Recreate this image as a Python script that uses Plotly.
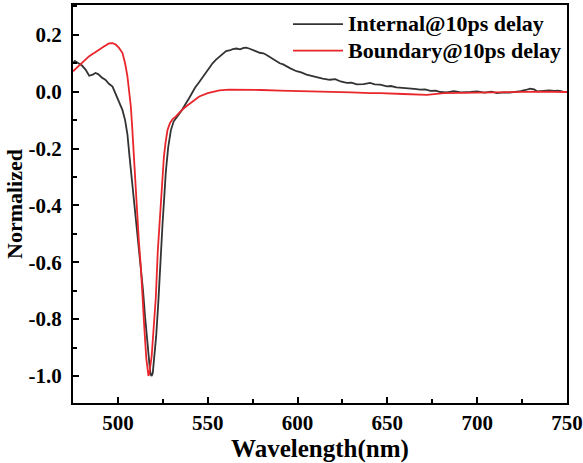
import plotly.graph_objects as go

# Internal@10ps delay (black)
int_wl = [475, 476, 478, 480, 482, 484, 486, 487.5, 489, 491, 493, 495, 497, 498.8, 500.5, 502.5,
          504, 505.3, 506.5, 508, 509.5, 510.8, 512.7, 514, 515.1, 516, 517, 517.8, 518.3, 518.8,
          519.4, 520.2, 521.3, 522.5, 523.9, 524.8, 525.8, 526.7, 528, 529.5, 531, 532.5, 534.1,
          535.5, 537, 538, 539.7, 541, 543, 545.3, 547, 549, 550.8, 552.7, 554.5, 556.5, 558, 560.2,
          562, 564, 566, 568, 570, 571.4, 573, 575, 577, 578.9, 581, 583, 585, 587, 590.1, 592,
          594, 596, 599.4, 602, 605, 608.7, 611, 614, 618, 621, 624, 627.4, 630, 633, 636.7, 640.4,
          643, 646, 649.7, 652, 655, 659, 662, 665, 668.3, 671, 674, 677, 679.5, 683, 687, 691,
          696.3, 700, 704, 708, 711, 714.9, 718, 721, 724.2, 727, 729.5, 731.7, 733.5, 735.4,
          738, 740, 742.9, 745, 747.5, 750]
int_val = [0.100, 0.108, 0.100, 0.092, 0.078, 0.056, 0.060, 0.066, 0.062, 0.050, 0.042, 0.028,
           0.018, -0.008, -0.030, -0.064, -0.100, -0.150, -0.230, -0.320, -0.420, -0.500, -0.600,
           -0.700, -0.790, -0.860, -0.935, -0.975, -0.995, -1.000, -0.990, -0.940, -0.860, -0.740,
           -0.560, -0.470, -0.370, -0.280, -0.195, -0.135, -0.105, -0.090, -0.078, -0.066, -0.052,
           -0.040, -0.022, -0.005, 0.015, 0.034, 0.050, 0.068, 0.082, 0.100, 0.112, 0.122, 0.132,
           0.143, 0.145, 0.150, 0.152, 0.149, 0.154, 0.155, 0.152, 0.148, 0.142, 0.137, 0.135,
           0.128, 0.120, 0.112, 0.100, 0.096, 0.088, 0.082, 0.072, 0.068, 0.060, 0.054, 0.050,
           0.046, 0.042, 0.044, 0.036, 0.031, 0.032, 0.026, 0.027, 0.031, 0.026, 0.025, 0.019,
           0.020, 0.015, 0.013, 0.014, 0.010, 0.007, 0.008, 0.003, 0.004, -0.001, -0.002, 0.002,
           -0.002, -0.001, 0.001, -0.003, 0.000, -0.005, -0.002, -0.003, -0.001, 0.002, 0.006,
           0.011, 0.008, 0.001, 0.002, 0.004, 0.005, 0.003, 0.004, 0.001]

# Boundary@10ps delay (red)
bnd_wl = [475, 478, 481, 484, 487, 489.6, 492, 495, 497, 498.8, 500.5, 502.5, 504, 505.3, 506.3,
          507.2, 508, 509, 510, 510.8, 511.7, 512.7, 513.6, 514.7, 515.8, 516.5, 517, 517.5, 518.2,
          518.8, 519.8, 521.1, 522.2, 522.9, 524, 524.8, 525.6, 526.5, 527.6, 529, 530.5, 532.3,
          535, 537.9, 541, 545.3, 550, 556.5, 562, 571.4, 580, 590, 600, 608.7, 620, 630, 640.4,
          646, 659, 672, 681.4, 690, 705.6, 720, 735, 750]
bnd_val = [0.072, 0.090, 0.110, 0.125, 0.137, 0.149, 0.158, 0.170, 0.171, 0.166, 0.155, 0.137,
           0.100, 0.054, 0.000, -0.052, -0.130, -0.240, -0.360, -0.470, -0.530, -0.610, -0.725,
           -0.830, -0.937, -0.985, -1.000, -0.990, -0.962, -0.930, -0.840, -0.725, -0.560, -0.488,
           -0.370, -0.288, -0.229, -0.180, -0.135, -0.110, -0.096, -0.087, -0.068, -0.052, -0.036,
           -0.017, -0.005, 0.005, 0.007, 0.007, 0.006, 0.004, 0.003, 0.001, 0.000, -0.002, -0.005,
           -0.005, -0.008, -0.011, -0.005, -0.004, -0.002, -0.001, 0.000, -0.001]

x_ticks = [500, 550, 600, 650, 700, 750]
y_ticks = [-1.0, -0.8, -0.6, -0.4, -0.2, 0.0, 0.2]
series_names = ["Internal@10ps delay", "Boundary@10ps delay"]

FONT = "Liberation Serif"

def legend_label(s):
    return f'<span style="font-size:22px"><b>{s}</b></span>'

fig = go.Figure()
fig.add_trace(go.Scatter(x=int_wl, y=int_val, mode="lines", name=legend_label(series_names[0]),
                         line=dict(color="#333333", width=1.8)))
fig.add_trace(go.Scatter(x=bnd_wl, y=bnd_val, mode="lines", name=legend_label(series_names[1]),
                         line=dict(color="#e8262b", width=1.8)))

axis_common = dict(showline=True, linecolor="black", linewidth=2, mirror=True,
                   showgrid=False, zeroline=False, ticks="inside", ticklen=6, tickwidth=2,
                   tickcolor="black", automargin=False,
                   tickfont=dict(family=FONT, size=21, color="black"))

fig.update_xaxes(range=[475, 750], tickvals=x_ticks, ticktext=[f"<b>{v}</b>" for v in x_ticks],
                 minor=dict(dtick=25, tick0=475, ticks="inside", ticklen=4, tickwidth=2, tickcolor="black"),
                 title=dict(text="<b>Wavelength(nm)</b>", font=dict(family=FONT, size=25, color="black"),
                            standoff=0),
                 **axis_common)
fig.update_yaxes(range=[-1.095, 0.305], tickvals=y_ticks, ticktext=[f"<b>{v:.1f}</b>" for v in y_ticks],
                 minor=dict(dtick=0.1, tick0=0.1, ticks="inside", ticklen=4, tickwidth=2, tickcolor="black"),
                 ticklabelstandoff=5,
                 title=dict(text="<b>Normalized</b>", font=dict(family=FONT, size=22, color="black"),
                            standoff=0),
                 **axis_common)

fig.update_layout(
    width=583, height=463,
    margin=dict(l=73, r=16, t=5, b=60, autoexpand=False),
    plot_bgcolor="white", paper_bgcolor="white",
    legend=dict(x=1.0, xref="paper", xanchor="right",
                y=0.987, yref="container", yanchor="top",
                bgcolor="rgba(0,0,0,0)",
                font=dict(family=FONT, size=18, color="black"), tracegroupgap=0,
                itemwidth=50),
)

fig.write_html("out.html", config={"displayModeBar": False},
               post_script="document.body.style.margin='0';")
